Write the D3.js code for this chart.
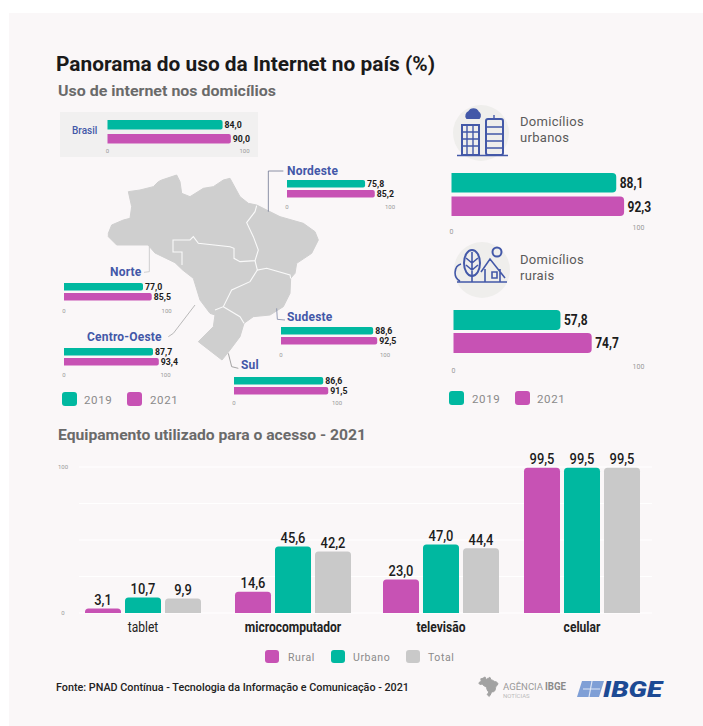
<!DOCTYPE html>
<html><head><meta charset="utf-8">
<script src="https://cdn.jsdelivr.net/npm/d3@7/dist/d3.min.js"></script>
<style>html,body{margin:0;padding:0;background:#fff}svg{display:block}text{font-family:Roboto,sans-serif}</style></head><body>
<svg id="c" width="703" height="726"></svg>
<script>
const years=["2019","2021"];
const regions=["Brasil","Nordeste","Norte","Centro-Oeste","Sudeste","Sul"];
const region2019=[84.0,75.8,77.0,87.7,88.6,86.6];
const region2021=[90.0,85.2,85.5,93.4,92.5,91.5];
const homes=["Domicílios urbanos","Domicílios rurais"];
const home2019=[88.1,57.8];
const home2021=[92.3,74.7];
const devices=["tablet","microcomputador","televisão","celular"];
const groups=["Rural","Urbano","Total"];
const rural=[3.1,14.6,23.0,99.5];
const urbano=[10.7,45.6,47.0,99.5];
const total=[9.9,42.2,44.4,99.5];
const axisTicks=[0,100];

const TEAL="#00b8a0",PINK="#c752b4",GREY="#c9c9c9",BLUE="#4358a8";
const svg=d3.select("#c");
const fmt=d3.formatLocale({decimal:",",thousands:".",grouping:[3],currency:["",""]}).format(".1f");
svg.append("rect").attr("x",9).attr("y",13).attr("width",694).attr("height",713).attr("fill","#faf7f8");

function txt(x,y,s,o={}){const t=svg.append("text").attr("x",x).attr("y",y).text(s)
 .attr("font-size",o.size||12).attr("fill",o.fill||"#222").attr("font-weight",o.weight||400)
 .attr("text-anchor",o.anchor||"start");
 if(o.ls)t.attr("letter-spacing",o.ls);
 if(o.len)t.attr("textLength",o.len).attr("lengthAdjust","spacingAndGlyphs");
 if(o.sq)t.attr("textLength",t.node().getComputedTextLength()*o.sq).attr("lengthAdjust","spacingAndGlyphs");
 if(o.italic)t.attr("font-style","italic");return t;}

txt(56,71,"Panorama do uso da Internet no país (%)",{size:20,weight:700,fill:"#1a1a1a",len:379});
txt(58,96,"Uso de internet nos domicílios",{size:14,weight:700,fill:"#6a6a6a",len:218});
txt(58,440,"Equipamento utilizado para o acesso - 2021",{size:14,weight:700,fill:"#6a6a6a",len:308});

svg.append("rect").attr("x",60).attr("y",112).attr("width",198).attr("height",45).attr("fill","#f1f0f0");

// map (zoomed pixels -> page)
const mp=d3.line().x(d=>40+d[0]/3).y(d=>40+d[1]/3);
const outline=[[205,580],[215,555],[250,540],[270,535],[275,500],[265,455],[300,450],[340,440],[355,425],[365,420],[410,405],[420,425],[425,460],[450,470],[490,445],[520,440],[550,420],[570,415],[600,470],[625,490],[650,495],[690,515],[720,530],[790,550],[825,575],[835,600],[815,640],[770,670],[765,700],[752,715],[750,760],[730,800],[690,825],[640,830],[612,850],[600,890],[570,930],[546,960],[475,905],[520,860],[525,825],[510,820],[480,780],[460,715],[428,690],[405,668],[345,639],[324,615],[285,615],[230,615],[205,590]];
const borders=[
 [[426,675],[426,636],[399,636],[399,600],[450,600],[460,590],[475,610],[570,620],[582,625],[582,655],[600,665],[645,662],[655,630],[640,590],[620,548],[645,515],[650,497]],
 [[645,662],[652,690],[680,685],[750,705],[752,715]],
 [[652,690],[630,725],[575,750],[550,800],[525,810]],
 [[550,800],[600,830],[612,850]]];
function drawBrazil(g,lineGen){
 g.append("path").attr("d",lineGen(outline)+"Z").attr("fill","#cfcfcf").attr("stroke","#cfcfcf").attr("stroke-width",1).attr("stroke-linejoin","round");
 return g;}
drawBrazil(svg.append("g"),mp);
borders.forEach(b=>svg.append("path").attr("d",mp(b)).attr("fill","none").attr("stroke","#fafafa").attr("stroke-width",1.1));
const connectors=[{c:"#6f7690",p:[[685,515],[685,393],[730,393]]},{c:"#c4c4c4",p:[[328,620],[328,695],[312,697]]},{c:"#a8a8a8",p:[[465,795],[400,880],[385,890]]},{c:"#7d86a5",p:[[710,805],[712,838],[735,840]]},{c:"#8e8e8e",p:[[565,940],[575,980],[595,985]]}];
connectors.forEach(k=>svg.append("path").attr("d",mp(k.p)).attr("fill","none").attr("stroke",k.c).attr("stroke-width",.8));

function barPath(x0,x1,y,h,r){r=Math.min(r,h/2);return `M${x0},${y}H${x1-r}Q${x1},${y} ${x1},${y+r}V${y+h-r}Q${x1},${y+h} ${x1-r},${y+h}H${x0}Z`;}
function hbars(v19,v21,o){
 const x=d3.scaleLinear().domain([0,100]).range([o.x,o.x+o.w]);
 const y=d3.scaleBand().domain(years).range([o.top,o.top+2*o.h+o.gap]).paddingInner(o.gap/(o.h+o.gap));
 [[years[0],v19,TEAL],[years[1],v21,PINK]].forEach(([yr,v,c])=>{
  svg.append("path").attr("d",barPath(x(0),x(v),y(yr),y.bandwidth(),o.r||2)).attr("fill",c);
  txt(x(v)+(o.big?3.5:2),y(yr)+y.bandwidth()/2+o.fs*.36,fmt(v),{size:o.fs,weight:700,fill:"#1c1c1c",sq:o.big?.8:.92});
 });
 axisTicks.forEach(t=>txt(x(t),o.tick+(t?(o.d100||0):0),t,{size:o.big?7:6,fill:"#999",anchor:"middle"}));
}
const P=(i)=>[region2019[i],region2021[i]];
hbars(...P(0),{x:107.5,w:137,top:120,h:9.5,gap:4.5,tick:153,fs:9.5});
hbars(...P(1),{x:287,w:103,top:180,h:7.5,gap:2.5,tick:209,fs:9.5});
hbars(...P(2),{x:64,w:102.6,top:283,h:7.5,gap:2.5,tick:313,fs:9.5});
hbars(...P(3),{x:64,w:101.5,top:348,h:7.5,gap:2.5,tick:377,fs:9.5});
hbars(...P(4),{x:281,w:104,top:327,h:7.5,gap:2.5,tick:357,fs:9.5});
hbars(...P(5),{x:234,w:103,top:377,h:7.5,gap:2.5,tick:405,fs:9.5});
hbars(home2019[0],home2021[0],{x:451.5,w:187,top:173,h:19.5,gap:4,tick:234,d100:-4,fs:15,big:true,r:4});
hbars(home2019[1],home2021[1],{x:453.5,w:185,top:310,h:20,gap:3,tick:373,d100:-4,fs:15,big:true,r:4});

const lab=[["Brasil",72,134,BLUE,10],["Nordeste",287,175,BLUE,12],["Norte",110,276,BLUE,12],["Centro-Oeste",87,341,BLUE,12],["Sudeste",287,321,BLUE,12],["Sul",241,369,BLUE,12]];
lab.forEach((l,i)=>txt(l[1],l[2],regions[i],{size:l[4],weight:i?700:500,fill:l[3],ls:i?.2:0}));

function legend(items,size){items.forEach(([x,lx,y,c,s])=>{
 svg.append("rect").attr("x",x).attr("y",y).attr("width",size).attr("height",size-1).attr("rx",3).attr("fill",c);
 txt(lx,y+size-3,s,{size:size===15?11.5:10.5,fill:"#8a8a8a",ls:.6});});}
legend([[62,84,392,TEAL,years[0]],[127,150,392,PINK,years[1]],[449,472,391,TEAL,years[0]],[515,537,391,PINK,years[1]]],15);
legend([[265,288,650,PINK,groups[0]],[331,353,650,TEAL,groups[1]],[406,428,650,GREY,groups[2]]],14);

txt(520,126,"Domicílios",{size:13,fill:"#5a5a5a",ls:.3});txt(520,142,"urbanos",{size:13,fill:"#5a5a5a",ls:.3});
txt(520,264,"Domicílios",{size:13,fill:"#5a5a5a",ls:.3});txt(520,280,"rurais",{size:13,fill:"#5a5a5a",ls:.3});

// icons
const ic=svg.append("g").attr("fill","none").attr("stroke",BLUE).attr("stroke-width",2);
svg.insert("circle","g").attr("cx",481).attr("cy",133).attr("r",28).attr("fill","#efeeec");
svg.insert("circle","g").attr("cx",482).attr("cy",270).attr("r",28).attr("fill","#efeeec");
ic.append("rect").attr("x",462).attr("y",125).attr("width",17).attr("height",30);
ic.append("rect").attr("x",486).attr("y",119).attr("width",17).attr("height",36).attr("rx",2);
ic.append("path").attr("stroke-width",1.4).attr("d","M467,125V155M473,125V155M462,132H479M462,139H479M462,146H479M486,127H503M486,134H503M486,141H503M486,148H503M494,119V115M457,155.5H508");
ic.append("path").attr("d","M467,118a4,4 0 0 1 2,-6a5,5 0 0 1 9,0a4,4 0 0 1 1,6Z").attr("fill",BLUE);
ic.append("ellipse").attr("cx",472).attr("cy",263).attr("rx",8).attr("ry",13);
ic.append("path").attr("stroke-width",1.6).attr("d","M472,252V282M466,258L472,263L478,258M466,265L472,270L478,265M457,282H507M461,264a8,9 0 0 0 -1,17M481,272L490,259L505,278M485,269V282H500V269M492,272H497V278H492Z");
ic.append("circle").attr("cx",497).attr("cy",252).attr("r",4.5);

// columns
const gx=d3.scaleOrdinal().domain(devices).range([143,293,441,582]);
const offs=d3.scalePoint().domain(groups).range([-40,40]);
const yc=d3.scaleLinear().domain([0,100]).range([613,467]);
[0,25,50,75,100].forEach(t=>svg.append("line").attr("x1",79).attr("x2",652).attr("y1",yc(t)).attr("y2",yc(t)).attr("stroke","#fff").attr("stroke-width",1.2));
axisTicks.forEach(t=>txt(63,yc(t)+2,t,{size:6,fill:"#999",anchor:"middle"}));
const cols={Rural:[rural,PINK],Urbano:[urbano,TEAL],Total:[total,GREY]};
function topBar(x,w,y0,y1,r){r=Math.min(r,(y0-y1));return `M${x},${y0}V${y1+r}Q${x},${y1} ${x+r},${y1}H${x+w-r}Q${x+w},${y1} ${x+w},${y1+r}V${y0}Z`;}
devices.forEach((d,i)=>{
 groups.forEach(g=>{
  const [vals,c]=cols[g],v=vals[i],cx=gx(d)+offs(g),w=36;
  svg.append("path").attr("d",topBar(cx-w/2,w,yc(0),yc(v),3.5)).attr("fill",c);
  txt(cx,yc(v)-3.5,fmt(v),{size:15,fill:"#1c1c1c",anchor:"middle",weight:500,sq:.86});
 });
 txt(gx(d),632,d,{size:14,anchor:"middle",fill:"#222",weight:i?700:400,sq:.86});
});

txt(56,691,"Fonte: PNAD Contínua - Tecnologia da Informação e Comunicação - 2021",{size:10.5,weight:500,fill:"#222",len:353});

// logos
const small=d3.line().x(d=>479+(d[0]-205)*.03).y(d=>677+(d[1]-405)*.035);
drawBrazil(svg.append("g"),small).select("path").attr("fill","#a2a2a2").attr("stroke","#a2a2a2");
txt(503,690,"AGÊNCIA",{size:9.5,fill:"#9a9a9a",len:40});
txt(545,690,"IBGE",{size:10,weight:700,fill:"#8a8a8a",len:21});
txt(503,698,"NOTÍCIAS",{size:6,fill:"#bbb"});
svg.append("path").attr("d","M582,681H604L599,697H577Z").attr("fill","#7f9fd6");
svg.append("path").attr("d","M583,689H600M592,681L589,697").attr("stroke","#dfe7f5").attr("stroke-width",1.2);
txt(603,697,"IBGE",{size:22,weight:900,fill:"#1d4a94",italic:true,len:59});
</script></body></html>
